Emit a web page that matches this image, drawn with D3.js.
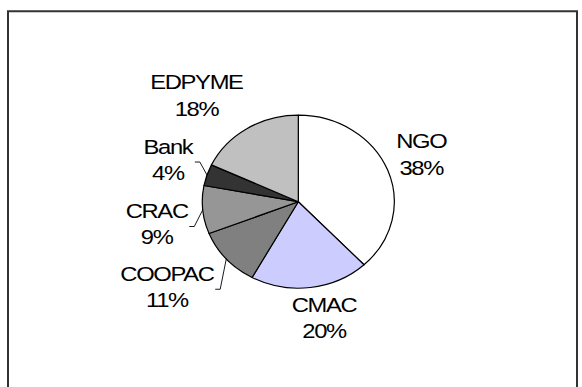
<!DOCTYPE html>
<html>
<head>
<meta charset="utf-8">
<script src="https://cdn.jsdelivr.net/npm/d3@7"></script>
<style>
  html, body { margin: 0; padding: 0; background: #fff; }
  svg { display: block; }
  text { font-family: "Liberation Sans", Arial, sans-serif; fill: #000; }
</style>
</head>
<body>
<svg id="chart" width="582" height="387"></svg>
<script>
// Share of institutions by type
const categories = ["NGO", "CMAC", "COOPAC", "CRAC", "Bank", "EDPYME"];
const shares = [38, 20, 11, 9, 4, 18];
const sliceColors = ["#FFFFFF", "#CCCCFF", "#808080", "#969696", "#333333", "#C0C0C0"];
// labels dragged away from their default spot get a leader line
const hasLeader = [false, false, true, true, true, false];
// manual label nudges [dx, dy] in px from the default outside position
const labelNudge = [[-3.5, -0.6], [8.7, -9.2], [-29.3, 1.9], [-6.2, 10.9], [-1, -2.6], [-29, 0.8]];

const svg = d3.select("#chart");

// chart area frame
svg.append("rect")
  .attr("x", 8).attr("y", 11.25)
  .attr("width", 569).attr("height", 400)
  .attr("fill", "none")
  .attr("stroke", "#333")
  .attr("stroke-width", 2);

const cx = 298.3, cy = 201.7;
const rx = 96, ry = 86.5;          // plot is slightly wider than tall
const sy = ry / rx;

const pie = d3.pie().sort(null).value(d => d.v);
const arcs = pie(categories.map((c, i) => ({ c, v: shares[i], i })));
const arc = d3.arc().innerRadius(0).outerRadius(rx);

const g = svg.append("g").attr("transform", `translate(${cx},${cy}) scale(1,${sy})`);
g.selectAll("path")
  .data(arcs)
  .join("path")
  .attr("d", arc)
  .attr("fill", d => sliceColors[d.data.i])
  .attr("stroke", "#000")
  .attr("stroke-width", 1.2)
  .attr("vector-effect", "non-scaling-stroke")
  .attr("stroke-linejoin", "round");

// labels: name over percentage, placed outside the pie
const fontSize = 19.5, scaleX = 1.22, tracking = -1.1, L = 40;
const fmt = d => d3.format(".0%")(d.data.v / 100);

arcs.forEach(d => {
  const i = d.data.i;
  const a = (d.startAngle + d.endAngle) / 2;
  const dx = Math.sin(a), dy = -Math.cos(a);
  const lx = cx + (rx + L) * dx + labelNudge[i][0];
  const ly = cy + (ry + L) * dy + labelNudge[i][1];

  const lg = svg.append("g").attr("transform", `translate(${lx},${ly}) scale(${scaleX},1)`);
  const t = lg.append("text")
    .attr("text-anchor", "middle")
    .attr("font-size", fontSize)
    .attr("letter-spacing", tracking);
  t.append("tspan").attr("x", 0).attr("y", -6.5).text(d.data.c);
  t.append("tspan").attr("x", 0).attr("y", 20).text(fmt(d));

  if (hasLeader[i]) {
    const bb = lg.node().getBBox();
    const right = lx + (bb.x + bb.width) * scaleX + 1;
    const yStart = ly + 2;
    const ex = cx + rx * dx, ey = cy + ry * dy;
    svg.append("path")
      .attr("d", d3.line()([[right, yStart], [right + 5, yStart], [ex, ey]]))
      .attr("fill", "none")
      .attr("stroke", "#000")
      .attr("stroke-width", 0.9);
  }
});
</script>
</body>
</html>
